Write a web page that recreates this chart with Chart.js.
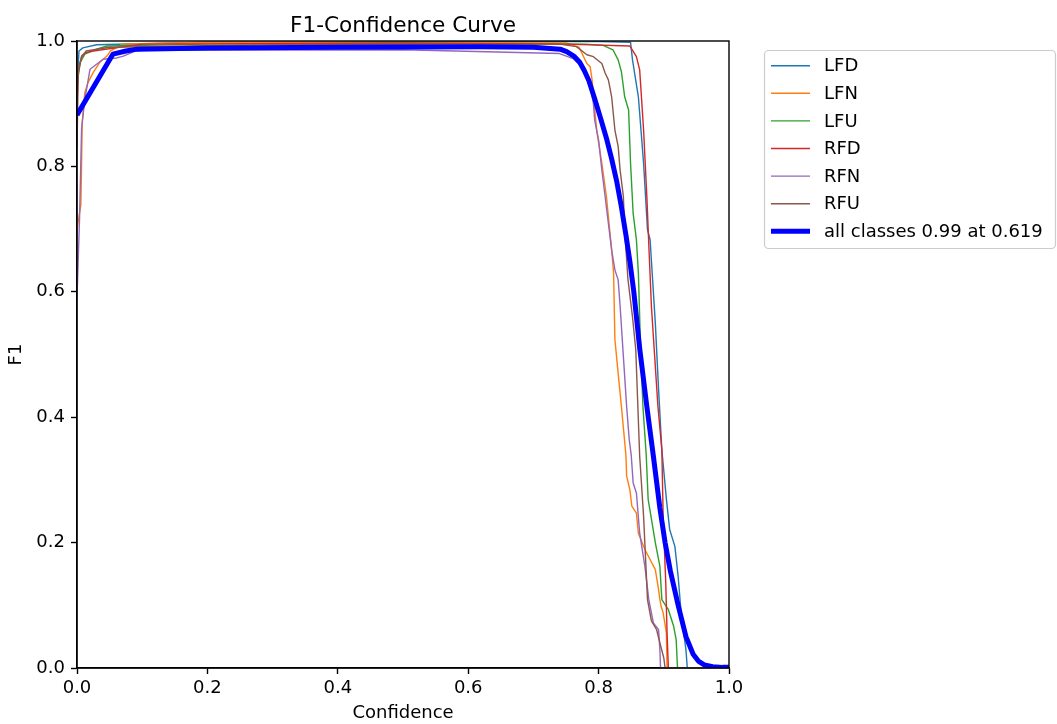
<!DOCTYPE html>
<html>
<head>
<meta charset="utf-8">
<script src="https://cdn.jsdelivr.net/npm/chart.js@4.4.1/dist/chart.umd.min.js"></script>
<style>
  html, body { margin: 0; padding: 0; background: #fff; }
  #wrap { width: 1057px; height: 724px; }
</style>
</head>
<body>
<div id="wrap"><canvas id="f1Chart" width="1057" height="724"></canvas></div>
<script>
// F1 vs confidence
const seriesLabels = ["LFD", "LFN", "LFU", "RFD", "RFN", "RFU", "all classes 0.99 at 0.619"];
const xTicks = [0, 0.2, 0.4, 0.6, 0.8, 1.0];

const lfdX = [0, 0.003, 0.009, 0.03, 0.2, 0.5, 0.8, 0.849, 0.852, 0.861, 0.869, 0.875, 0.879, 0.887, 0.892, 0.897, 0.904, 0.909, 0.917, 0.922, 0.927, 0.934, 0.936, 1.0];
const lfdY = [0.92, 0.984, 0.989, 0.994, 0.998, 0.999, 0.999, 0.998, 0.97, 0.911, 0.805, 0.699, 0.683, 0.55, 0.444, 0.348, 0.269, 0.221, 0.194, 0.146, 0.083, 0.029, 0, 0];

const lfnX = [0, 0.006, 0.008, 0.012, 0.017, 0.025, 0.035, 0.046, 0.051, 0.07, 0.2, 0.5, 0.75, 0.77, 0.782, 0.787, 0.79, 0.797, 0.805, 0.812, 0.817, 0.82, 0.823, 0.825, 0.83, 0.835, 0.842, 0.843, 0.848, 0.851, 0.858, 0.861, 0.871, 0.887, 0.892, 0.894, 0.896, 0.899, 0.904, 0.905, 1.0];
const lfnY = [0.70, 0.74, 0.87, 0.918, 0.934, 0.95, 0.966, 0.976, 0.984, 0.995, 0.998, 0.998, 0.997, 0.99, 0.964, 0.959, 0.938, 0.858, 0.805, 0.752, 0.699, 0.667, 0.63, 0.524, 0.47, 0.417, 0.338, 0.306, 0.284, 0.258, 0.247, 0.215, 0.189, 0.157, 0.125, 0.109, 0.098, 0.088, 0.056, 0, 0];

const lfuX = [0, 0.005, 0.012, 0.03, 0.046, 0.2, 0.5, 0.78, 0.807, 0.822, 0.83, 0.835, 0.84, 0.846, 0.849, 0.853, 0.858, 0.861, 0.864, 0.868, 0.873, 0.876, 0.887, 0.894, 0.897, 0.904, 0.907, 0.915, 0.919, 0.921, 1.0];
const lfuY = [0.93, 0.966, 0.979, 0.987, 0.992, 0.995, 0.996, 0.995, 0.993, 0.986, 0.97, 0.951, 0.911, 0.89, 0.805, 0.725, 0.683, 0.63, 0.524, 0.417, 0.34, 0.269, 0.2, 0.162, 0.109, 0.098, 0.093, 0.067, 0.045, 0, 0];

const rfdX = [0, 0.002, 0.007, 0.012, 0.025, 0.1, 0.5, 0.75, 0.848, 0.858, 0.863, 0.869, 0.874, 0.877, 0.881, 0.886, 0.891, 0.897, 0.899, 0.903, 0.905, 0.907, 1.0];
const rfdY = [0.90, 0.95, 0.976, 0.981, 0.984, 0.995, 0.997, 0.995, 0.992, 0.975, 0.954, 0.858, 0.752, 0.675, 0.577, 0.497, 0.417, 0.348, 0.242, 0.136, 0.056, 0, 0];

const rfnX = [0, 0.004, 0.007, 0.012, 0.02, 0.03, 0.04, 0.061, 0.071, 0.089, 0.1, 0.5, 0.74, 0.761, 0.774, 0.779, 0.787, 0.792, 0.794, 0.8, 0.805, 0.81, 0.815, 0.82, 0.825, 0.83, 0.833, 0.838, 0.843, 0.847, 0.85, 0.853, 0.858, 0.863, 0.871, 0.877, 0.884, 0.892, 0.894, 0.895, 1.0];
const rfnY = [0.59, 0.72, 0.86, 0.907, 0.955, 0.963, 0.971, 0.973, 0.976, 0.984, 0.985, 0.986, 0.98, 0.972, 0.959, 0.949, 0.927, 0.901, 0.874, 0.842, 0.794, 0.752, 0.709, 0.667, 0.635, 0.619, 0.577, 0.497, 0.417, 0.364, 0.34, 0.295, 0.279, 0.215, 0.162, 0.109, 0.072, 0.061, 0.029, 0, 0];

const rfuX = [0, 0.002, 0.007, 0.014, 0.05, 0.3, 0.6, 0.74, 0.766, 0.782, 0.792, 0.805, 0.81, 0.815, 0.82, 0.825, 0.83, 0.833, 0.838, 0.84, 0.845, 0.852, 0.857, 0.863, 0.869, 0.875, 0.881, 0.889, 0.894, 0.9, 0.902, 1.0];
const rfuY = [0.83, 0.955, 0.974, 0.984, 0.99, 0.994, 0.995, 0.995, 0.991, 0.978, 0.975, 0.964, 0.949, 0.938, 0.911, 0.858, 0.832, 0.794, 0.752, 0.699, 0.62, 0.56, 0.508, 0.338, 0.242, 0.109, 0.075, 0.061, 0.04, 0.016, 0, 0];

const allX = [0, 0.055, 0.075, 0.092, 0.2, 0.4, 0.619, 0.7, 0.741, 0.751, 0.762, 0.771, 0.778, 0.785, 0.794, 0.803, 0.812, 0.82, 0.828, 0.835, 0.842, 0.848, 0.854, 0.863, 0.874, 0.884, 0.894, 0.902, 0.91, 0.922, 0.934, 0.945, 0.953, 0.962, 0.975, 0.99, 1.0];
const allY = [0.882, 0.979, 0.984, 0.987, 0.989, 0.99, 0.991, 0.99, 0.987, 0.983, 0.976, 0.966, 0.953, 0.937, 0.908, 0.877, 0.845, 0.812, 0.775, 0.735, 0.69, 0.648, 0.6, 0.51, 0.417, 0.338, 0.255, 0.2, 0.155, 0.1, 0.05, 0.022, 0.011, 0.005, 0.002, 0.001, 0.001];

const colors = ["#1f77b4", "#ff7f0e", "#2ca02c", "#d62728", "#9467bd", "#8c564b", "#0000ff"];
const xs = [lfdX, lfnX, lfuX, rfdX, rfnX, rfuX, allX];
const ys = [lfdY, lfnY, lfuY, rfdY, rfnY, rfuY, allY];

const FONT = "'DejaVu Sans', sans-serif";

function pts(x, y) {
  return x.map((v, i) => ({ x: v, y: y[i] }));
}

const datasets = seriesLabels.map((label, i) => ({
  label: label,
  data: pts(xs[i], ys[i]),
  borderColor: colors[i],
  backgroundColor: colors[i],
  borderWidth: i === 6 ? 5 : 1.4,
  borderJoinStyle: "round",
  pointRadius: 0,
  tension: 0,
  fill: false,
  // lower order draws on top; thick "all classes" line last
  order: i === 6 ? 0 : 6 - i
}));

// frame, title and matplotlib-like legend
const decor = {
  id: "decor",
  afterDatasetsDraw(chart) {
    const { ctx, chartArea: a } = chart;
    ctx.save();
    ctx.strokeStyle = "#000";
    ctx.lineWidth = 1.4;
    ctx.strokeRect(a.left, a.top, a.right - a.left, a.bottom - a.top);
    ctx.restore();
  },
  afterDraw(chart) {
    const { ctx, chartArea: a } = chart;
    ctx.save();
    ctx.fillStyle = "#000";
    ctx.font = "21.6px " + FONT;
    ctx.textAlign = "center";
    ctx.textBaseline = "alphabetic";
    ctx.fillText("F1-Confidence Curve", (a.left + a.right) / 2, 32);

    // legend box
    const bx = 764.5, by = 50.5, bw = 291, bh = 198, r = 4;
    ctx.beginPath();
    ctx.moveTo(bx + r, by);
    ctx.arcTo(bx + bw, by, bx + bw, by + bh, r);
    ctx.arcTo(bx + bw, by + bh, bx, by + bh, r);
    ctx.arcTo(bx, by + bh, bx, by, r);
    ctx.arcTo(bx, by, bx + bw, by, r);
    ctx.closePath();
    ctx.fillStyle = "rgba(255,255,255,0.8)";
    ctx.fill();
    ctx.strokeStyle = "#cccccc";
    ctx.lineWidth = 1.2;
    ctx.stroke();

    ctx.font = "18px " + FONT;
    ctx.textAlign = "left";
    ctx.textBaseline = "middle";
    chart.data.datasets.forEach((ds, i) => {
      const yy = 65.7 + i * 27.6;
      ctx.strokeStyle = ds.borderColor;
      ctx.lineWidth = ds.borderWidth;
      ctx.beginPath();
      ctx.moveTo(771, yy);
      ctx.lineTo(810, yy);
      ctx.stroke();
      ctx.fillStyle = "#000";
      ctx.fillText(ds.label, 824, yy + 1);
    });
    ctx.restore();
  }
};

const ctx = document.getElementById("f1Chart").getContext("2d");
const f1Chart = new Chart(ctx, {
  type: "line",
  data: { datasets: datasets },
  options: {
    responsive: false,
    animation: false,
    layout: { padding: { left: 0, right: 328, top: 41, bottom: 0 } },
    plugins: {
      legend: { display: false },
      title: { display: false },
      tooltip: { enabled: false }
    },
    scales: {
      x: {
        type: "linear",
        min: 0,
        max: 1,
        afterBuildTicks: (s) => { s.ticks = xTicks.map((v) => ({ value: v })); },
        afterFit: (s) => { s.height = 56; },
        ticks: {
          color: "#000",
          font: { family: FONT, size: 18 },
          padding: 4,
          maxRotation: 0,
          callback: (v) => Number(v).toFixed(1)
        },
        grid: { drawOnChartArea: false, drawTicks: true, tickLength: 6, tickWidth: 1.4, tickColor: "#000" },
        border: { display: true, color: "#000", width: 1.4 },
        title: { display: true, text: "Confidence", color: "#000", font: { family: FONT, size: 18 }, padding: { top: 0, bottom: 0 } }
      },
      y: {
        type: "linear",
        min: 0,
        max: 1,
        afterBuildTicks: (s) => { s.ticks = xTicks.map((v) => ({ value: v })); },
        afterFit: (s) => { s.width = 77; },
        ticks: {
          color: "#000",
          font: { family: FONT, size: 18 },
          padding: 6,
          callback: (v) => Number(v).toFixed(1)
        },
        grid: { drawOnChartArea: false, drawTicks: true, tickLength: 6, tickWidth: 1.4, tickColor: "#000" },
        border: { display: true, color: "#000", width: 1.4 },
        title: { display: true, text: "F1", color: "#000", font: { family: FONT, size: 18 }, padding: { top: 6, bottom: 0 } }
      }
    }
  },
  plugins: [decor]
});
</script>
</body>
</html>
